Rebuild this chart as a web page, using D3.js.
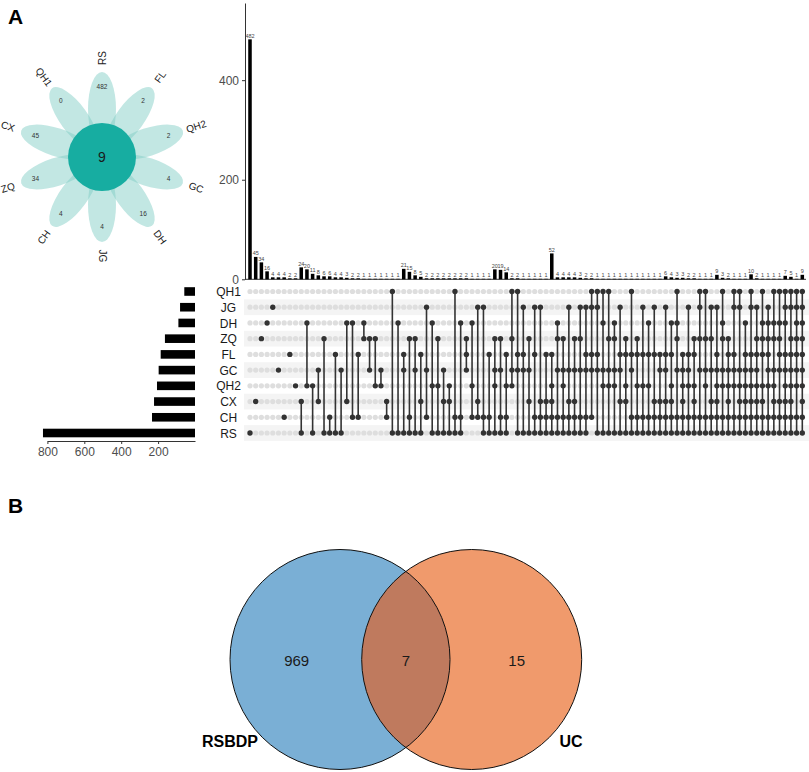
<!DOCTYPE html>
<meta charset="utf-8">

<!-- Load d3.js -->
<script src="https://d3js.org/d3.v7.min.js"></script>

<style>
  body { margin: 0; background: #fff; }
  text { font-family: "Liberation Sans", Arial, sans-serif; }
</style>

<body>
<div id="my_dataviz"></div>
</body>

<script>
  // ---------------------------//
  //       DATA                 //
  // ---------------------------//

  // sets, top to bottom in the matrix
  const setNames = ["QH1", "JG", "DH", "ZQ", "FL", "GC", "QH2", "CX", "CH", "RS"];
  const setSizes = [58, 81, 90, 163, 186, 197, 206, 222, 233, 824];
  const sizeTicks = [800, 600, 400, 200];

  // flower (clockwise from the top)
  const flowerSets = ["RS", "FL", "QH2", "GC", "DH", "JG", "CH", "ZQ", "CX", "QH1"];
  const flowerUnique = [482, 2, 2, 4, 16, 4, 4, 34, 45, 0];
  const flowerCore = 9;

  // intersections (one per column, left to right)
  const interCounts = [
    482, 45, 34, 16, 4, 4, 4, 2, 2,
    24, 20, 11, 8, 6, 6, 4, 4, 3, 2, 2, 1, 1, 1, 1, 1, 1, 1,
    21, 15, 8, 5, 2, 2, 2, 2, 2, 2, 2, 2, 1, 1, 1, 1,
    20, 19, 14, 2, 2, 1, 1, 1, 1, 1,
    52, 4, 4, 4, 4, 3, 2, 2, 1, 1, 1, 1, 1, 1, 1, 1, 1, 1, 1, 1,
    6, 4, 3, 3, 2, 2, 1, 1, 1,
    9, 3, 2, 1, 1, 1,
    10, 2, 1, 1, 1, 1,
    7, 5, 1,
    9
  ];
  const interSets = [
    "RS", "CX", "ZQ", "DH", "JG", "GC", "CH", "FL", "QH2",
    "CX RS", "DH QH2", "QH2 RS", "GC CX", "ZQ RS", "CH RS", "FL RS", "GC RS", "DH CX",
    "DH CH", "FL CH", "DH ZQ", "ZQ GC", "ZQ QH2", "GC QH2", "CX CH", "QH1 RS", "DH RS",
    "FL GC RS", "ZQ CH RS", "ZQ GC RS", "FL CX RS", "JG GC CH", "DH QH2 RS", "ZQ QH2 RS", "GC CX RS",
    "QH2 CX RS", "QH1 CH RS", "DH CH RS", "ZQ FL GC", "DH QH2 CH", "JG CX CH", "JG CH RS", "FL CH RS",
    "ZQ GC QH2 RS", "ZQ GC CH RS", "FL QH2 CH RS", "QH1 ZQ GC QH2", "QH1 FL GC RS",
    "JG FL GC RS", "ZQ GC CX RS", "JG FL CH RS", "JG CX CH RS", "FL CX CH RS",
    "FL QH2 CX CH RS", "DH ZQ GC CH RS", "ZQ GC QH2 CH RS", "JG GC CX CH RS", "ZQ GC CX CH RS",
    "JG ZQ GC CH RS", "JG FL GC CH RS", "QH1 JG FL GC CH", "QH1 JG FL GC RS", "QH1 DH GC QH2 RS",
    "QH1 ZQ GC QH2 RS", "DH ZQ GC QH2 RS", "JG FL GC CX RS", "ZQ FL QH2 CX RS", "QH1 FL GC CH RS",
    "ZQ FL QH2 CH RS", "JG FL QH2 CH RS", "DH FL QH2 CH RS", "JG FL CX CH RS", "FL GC CX CH RS",
    "JG FL GC CX CH RS", "DH FL QH2 CX CH RS", "QH1 DH ZQ GC CH RS", "FL GC QH2 CX CH RS",
    "JG FL GC QH2 CH RS", "ZQ FL QH2 CX CH RS", "QH1 JG ZQ GC CH RS", "QH1 ZQ GC QH2 CH RS",
    "JG ZQ GC CX CH RS",
    "JG FL GC QH2 CX CH RS", "QH1 DH ZQ GC QH2 CH RS", "ZQ FL GC QH2 CX CH RS",
    "QH1 JG FL GC QH2 CH RS", "QH1 JG GC QH2 CX CH RS", "DH FL GC QH2 CX CH RS",
    "QH1 JG FL GC QH2 CX CH RS", "JG ZQ FL GC QH2 CX CH RS", "QH1 DH ZQ FL QH2 CX CH RS",
    "JG DH ZQ FL GC QH2 CH RS", "QH1 DH ZQ GC QH2 CX CH RS", "QH1 DH ZQ FL GC CX CH RS",
    "QH1 JG DH FL GC QH2 CX CH RS", "QH1 JG ZQ FL GC QH2 CX CH RS", "QH1 JG DH ZQ FL GC QH2 CH RS",
    "QH1 JG DH ZQ FL GC QH2 CX CH RS"
  ];
  const barTicks = [0, 200, 400];

  // venn
  const vennNames = ["RSBDP", "UC"];
  const vennCounts = [969, 7, 15];   // left only, both, right only

  // ---------------------------//
  //       SVG                  //
  // ---------------------------//
  const svg = d3.select("#my_dataviz")
    .append("svg")
    .attr("width", 809)
    .attr("height", 772);

  // panel letters
  svg.append("text").attr("x", 8).attr("y", 24).text("A")
    .style("font-size", "21px").style("font-weight", "bold");
  svg.append("text").attr("x", 8).attr("y", 513).text("B")
    .style("font-size", "21px").style("font-weight", "bold");

  // ---------------------------//
  //       FLOWER               //
  // ---------------------------//
  const fc = {x: 102, y: 157};
  const ang = d3.scaleLinear().domain([0, flowerSets.length]).range([-90, 270]);
  const flower = svg.append("g").attr("transform", `translate(${fc.x},${fc.y})`);

  flower.selectAll("petal")
    .data(flowerSets)
    .join("ellipse")
      .attr("cx", 48).attr("cy", 0)
      .attr("rx", 37).attr("ry", 14)
      .attr("transform", (d, i) => `rotate(${ang(i)})`)
      .style("fill", "rgb(128,205,197)")
      .style("fill-opacity", 0.48);

  flower.append("circle").attr("r", 34).style("fill", "#17ada1");
  flower.append("text").attr("y", 5).attr("text-anchor", "middle")
    .text(flowerCore).style("font-size", "14px").style("fill", "#1a1a1a");

  const rad = a => a * Math.PI / 180;
  flower.selectAll("pval")
    .data(flowerUnique)
    .join("text")
      .attr("x", (d, i) => 70 * Math.cos(rad(ang(i))))
      .attr("y", (d, i) => 70 * Math.sin(rad(ang(i))) + 2.3)
      .attr("text-anchor", "middle")
      .text(d => d)
      .style("font-size", "6.5px").style("fill", "#333");

  flower.selectAll("pname")
    .data(flowerSets)
    .join("text")
      .attr("transform", (d, i) => {
        const a = ang(i);
        const px = 99 * Math.cos(rad(a)), py = 99 * Math.sin(rad(a));
        let r = a > 90 ? a - 180 : a;
        return `translate(${px},${py}) rotate(${r})`;
      })
      .attr("text-anchor", "middle")
      .attr("dy", "0.35em")
      .text(d => d)
      .style("font-size", "10px").style("fill", "#222");

  // ---------------------------//
  //       UPSET BARS           //
  // ---------------------------//
  const cols = d3.range(interCounts.length);
  const x = d3.scaleBand().domain(cols).range([247.15, 805.15])
    .paddingInner(0.38).paddingOuter(0.19);
  const y = d3.scaleLinear().domain([0, 555]).range([279.3, 3]);

  const yAxis = svg.append("g")
    .attr("transform", "translate(245,0)")
    .call(d3.axisLeft(y).tickValues(barTicks).tickSize(3).tickSizeOuter(0));
  yAxis.select(".domain").attr("stroke", "#333");
  yAxis.selectAll(".tick line").attr("stroke", "#333");
  yAxis.selectAll(".tick text").style("font-size", "12px").style("fill", "#4d4d4d")
    .style("font-family", "'Liberation Sans', Arial, sans-serif");

  svg.append("line").attr("x1", 245).attr("x2", 806)
    .attr("y1", y(0)).attr("y2", y(0)).attr("stroke", "#333").attr("stroke-width", 1);

  svg.selectAll("ibar")
    .data(interCounts)
    .join("rect")
      .attr("x", (d, i) => x(i))
      .attr("width", x.bandwidth())
      .attr("y", d => y(d))
      .attr("height", d => y(0) - y(d))
      .style("fill", "#000");

  svg.selectAll("ilab")
    .data(interCounts)
    .join("text")
      .attr("x", (d, i) => x(i) + x.bandwidth() / 2)
      .attr("y", d => y(d) - 1.8)
      .attr("text-anchor", "middle")
      .text(d => d)
      .style("font-size", "5.5px").style("fill", "#444");

  // ---------------------------//
  //       MATRIX               //
  // ---------------------------//
  const row = d3.scaleBand().domain(setNames).range([283.64, 440.86]);
  const cx = i => x(i) + x.bandwidth() / 2;
  const cy = s => row(s) + row.bandwidth() / 2;

  svg.selectAll("band")
    .data(setNames.filter((d, i) => i % 2 == 1))
    .join("rect")
      .attr("x", 244).attr("width", 565)
      .attr("y", d => row(d)).attr("height", row.bandwidth())
      .style("fill", "#f4f4f4");

  const cells = [];
  interSets.forEach((s, i) => {
    const mem = s.split(" ");
    setNames.forEach(n => cells.push({col: i, set: n, on: mem.includes(n)}));
  });

  svg.selectAll("off")
    .data(cells.filter(d => !d.on))
    .join("circle")
      .attr("cx", d => cx(d.col)).attr("cy", d => cy(d.set))
      .attr("r", 2.6).style("fill", "#dedede");

  svg.selectAll("conn")
    .data(interSets)
    .join("line")
      .attr("x1", (d, i) => cx(i)).attr("x2", (d, i) => cx(i))
      .attr("y1", d => d3.min(d.split(" "), cy))
      .attr("y2", d => d3.max(d.split(" "), cy))
      .attr("stroke", "#333").attr("stroke-width", 1.6);

  svg.selectAll("on")
    .data(cells.filter(d => d.on))
    .join("circle")
      .attr("cx", d => cx(d.col)).attr("cy", d => cy(d.set))
      .attr("r", 2.7).style("fill", "#333");

  // set labels
  svg.selectAll("slab")
    .data(setNames)
    .join("text")
      .attr("x", 228.5).attr("y", d => cy(d))
      .attr("dy", "0.38em")
      .attr("text-anchor", "middle")
      .text(d => d)
      .style("font-size", "12px").style("fill", "#1a1a1a");

  // set size bars
  const sx = d3.scaleLinear().domain([0, 800]).range([195, 47.4]);
  svg.selectAll("sbar")
    .data(setSizes)
    .join("rect")
      .attr("x", d => sx(d))
      .attr("width", d => sx(0) - sx(d))
      .attr("y", (d, i) => cy(setNames[i]) - 4.3)
      .attr("height", 8.6)
      .style("fill", "#000");

  const sAxis = svg.append("g")
    .attr("transform", "translate(0,441)")
    .call(d3.axisBottom(sx).tickValues(sizeTicks).tickSize(3).tickSizeOuter(0));
  sAxis.select(".domain").attr("stroke", "#333");
  sAxis.selectAll(".tick line").attr("stroke", "#333");
  sAxis.selectAll(".tick text").style("font-size", "12px").style("fill", "#4d4d4d")
    .style("font-family", "'Liberation Sans', Arial, sans-serif");

  // ---------------------------//
  //       VENN                 //
  // ---------------------------//
  const vr = 110;
  const vc = [{x: 340, y: 659.5}, {x: 471.7, y: 659.5}];

  svg.append("defs").append("clipPath").attr("id", "clipL")
    .append("circle").attr("cx", vc[0].x).attr("cy", vc[0].y).attr("r", vr);

  svg.append("circle").attr("cx", vc[0].x).attr("cy", vc[0].y).attr("r", vr)
    .style("fill", "#7aafd5");
  svg.append("circle").attr("cx", vc[1].x).attr("cy", vc[1].y).attr("r", vr)
    .style("fill", "#f09a6c");
  svg.append("circle").attr("cx", vc[1].x).attr("cy", vc[1].y).attr("r", vr)
    .attr("clip-path", "url(#clipL)")
    .style("fill", "#bf7a5e");
  svg.selectAll("vring")
    .data(vc)
    .join("circle")
      .attr("cx", d => d.x).attr("cy", d => d.y).attr("r", vr)
      .style("fill", "none").attr("stroke", "#111").attr("stroke-width", 1);

  const vx = [296.7, 406, 516.7];
  svg.selectAll("vnum")
    .data(vennCounts)
    .join("text")
      .attr("x", (d, i) => vx[i]).attr("y", 665.5)
      .attr("text-anchor", "middle")
      .text(d => d)
      .style("font-size", "15px").style("fill", "#1a1a1a");

  svg.selectAll("vname")
    .data(vennNames)
    .join("text")
      .attr("x", (d, i) => [230, 571][i]).attr("y", 747)
      .attr("text-anchor", "middle")
      .text(d => d)
      .style("font-size", "16px").style("font-weight", "bold").style("fill", "#000");
</script>
